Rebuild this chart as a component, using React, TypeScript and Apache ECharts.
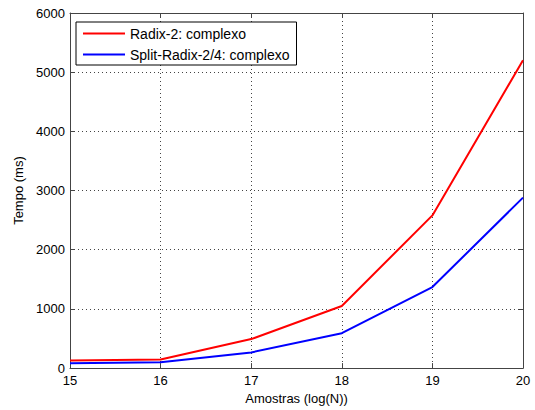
import React, { useEffect, useRef } from "react";
import * as echarts from "echarts";

const xValues = [15, 16, 17, 18, 19, 20];
const radix2 = [130, 145, 490, 1050, 2580, 5200];
const splitRadix = [80, 100, 265, 590, 1370, 2880];
const seriesNames = ["Radix-2: complexo", "Split-Radix-2/4: complexo"];

export default function App() {
  const ref = useRef<HTMLDivElement>(null);
  useEffect(() => {
    if (!ref.current) return;
    const chart = echarts.init(ref.current, null, { renderer: "svg" });
    const font = "Liberation Sans, Arial, sans-serif";
    const axisCommon = {
      type: "value" as const,
      axisLine: { show: true, onZero: false, lineStyle: { color: "#444", width: 1 } },
      axisTick: { show: true, inside: true, length: 5, lineStyle: { color: "#444" } },
    };
    chart.setOption({
      animation: false,
      backgroundColor: "#fff",
      textStyle: { fontFamily: font },
      grid: { left: 70, right: 12, top: 13, bottom: 39, containLabel: false },
      legend: {
        data: seriesNames.map((name) => ({ name, icon: "rect" })),
        orient: "vertical",
        left: 76,
        top: 22,
        itemWidth: 42,
        itemHeight: 2,
        itemGap: 6,
        padding: [4, 7, 3, 7],
        backgroundColor: "#fff",
        borderColor: "#000",
        borderWidth: 1,
        borderRadius: 0,
        textStyle: { fontFamily: font, fontSize: 14, color: "#000", lineHeight: 15 },
      },
      xAxis: [
        {
          ...axisCommon,
          position: "bottom",
          min: 15,
          max: 20,
          interval: 1,
          name: "Amostras (log(N))",
          nameLocation: "middle",
          nameGap: 23,
          nameTextStyle: { fontFamily: font, fontSize: 13, color: "#000" },
          axisLabel: { fontFamily: font, fontSize: 13, color: "#000", margin: 6, formatter: (v: number) => String(v) },
          splitLine: { show: true, lineStyle: { color: "#444", type: [1, 3], width: 1 } },
        },
        {
          ...axisCommon,
          position: "top",
          min: 15,
          max: 20,
          interval: 1,
          axisLabel: { show: false },
          splitLine: { show: false },
        },
      ],
      yAxis: [
        {
          ...axisCommon,
          position: "left",
          min: 0,
          max: 6000,
          interval: 1000,
          name: "Tempo (ms)",
          nameLocation: "middle",
          nameGap: 42,
          nameTextStyle: { fontFamily: font, fontSize: 13, color: "#000" },
          axisLabel: { fontFamily: font, fontSize: 13, color: "#000", margin: 5, formatter: (v: number) => String(v) },
          splitLine: { show: true, lineStyle: { color: "#444", type: [1, 3], width: 1 } },
        },
        {
          ...axisCommon,
          position: "right",
          min: 0,
          max: 6000,
          interval: 1000,
          axisLabel: { show: false },
          splitLine: { show: false },
        },
      ],
      series: [
        {
          name: seriesNames[0],
          type: "line",
          data: xValues.map((x, i) => [x, radix2[i]]),
          symbol: "none",
          lineStyle: { color: "#ff0000", width: 2 },
          itemStyle: { color: "#ff0000" },
        },
        {
          name: seriesNames[1],
          type: "line",
          data: xValues.map((x, i) => [x, splitRadix[i]]),
          symbol: "none",
          lineStyle: { color: "#0000ff", width: 2 },
          itemStyle: { color: "#0000ff" },
        },
      ],
    });
    return () => chart.dispose();
  }, []);
  return <div ref={ref} style={{ width: 535, height: 410, position: "absolute", left: 0, top: 0 }} />;
}
